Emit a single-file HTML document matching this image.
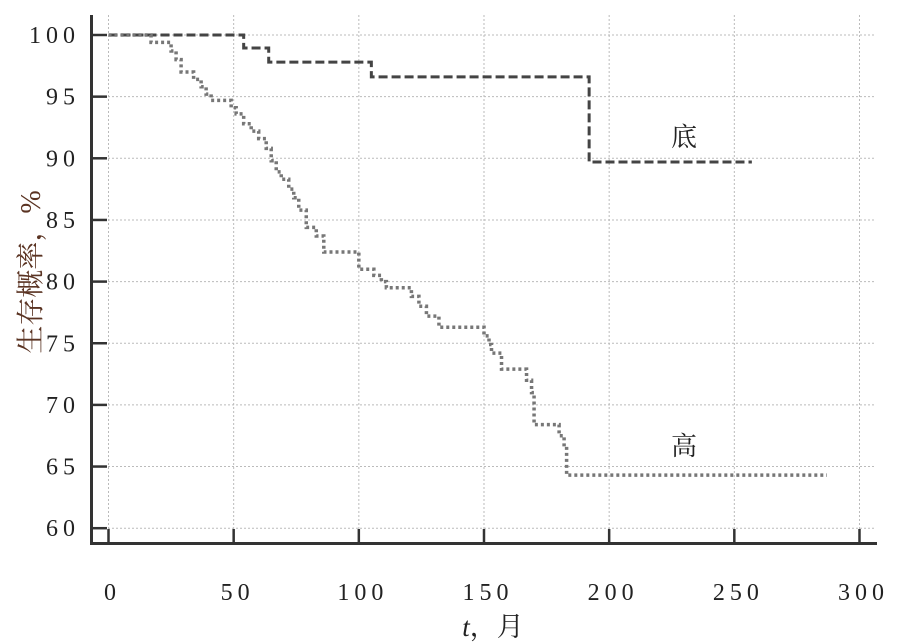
<!DOCTYPE html>
<html><head><meta charset="utf-8">
<style>
html,body{margin:0;padding:0;background:#fff;}
svg{display:block;}
text{font-family:"Liberation Serif","Noto Serif CJK SC",serif;fill:#222;}
</style></head>
<body>
<svg id="chart" width="922" height="644" viewBox="0 0 922 644" xmlns="http://www.w3.org/2000/svg"></svg>
<script>
const xTicks = [0,50,100,150,200,250,300];
const yTicks = [60,65,70,75,80,85,90,95,100];
const lowTimes = [0,54,64,105,192,257];
const lowSurv  = [100,98.95,97.8,96.6,89.7,89.7];
const highTimes = [0,17,25,27,29,34,37,39,41,49,51,54,57,60,63,65,67,69,72,74,76,79,83,86,100,106,109,111,121,124,127,132,150,152,153,157,167,169,170,180,182,183,287];
const highSurv  = [100,99.4,98.7,98.0,97.0,96.4,95.8,95.2,94.7,94.1,93.6,92.8,92.2,91.6,90.8,89.8,88.9,88.3,87.5,86.8,85.8,84.4,83.7,82.4,81.0,80.5,80.0,79.5,78.8,78.0,77.2,76.3,75.6,74.9,74.2,72.9,72.0,71.0,68.4,67.5,66.6,64.3,64.3];
const labelLow = "底", labelHigh = "高";

const svg = document.getElementById('chart');
const NS = 'http://www.w3.org/2000/svg';
const X = t => 108.5 + t*2.5033;
const Y = v => 35 + (100-v)*12.33;
function mk(tag, attrs){const e=document.createElementNS(NS,tag);for(const k in attrs)e.setAttribute(k,attrs[k]);svg.appendChild(e);return e;}

xTicks.forEach(t=>{
  const g=mk('line',{x1:X(t),x2:X(t),y1:15,y2:543,stroke:'#bbb','stroke-width':1,'stroke-dasharray':'2,2'});
  
  
});
yTicks.forEach(v=>{
  const g=mk('line',{x1:92,x2:876,y1:Y(v),y2:Y(v),stroke:'#bbb','stroke-width':1,'stroke-dasharray':'2,2'});
  
  
});
const ya=mk('line',{x1:91.5,x2:91.5,y1:15,y2:545,stroke:'#333','stroke-width':3});


const xa=mk('line',{x1:90,x2:877,y1:543.5,y2:543.5,stroke:'#333','stroke-width':3});


yTicks.forEach(v=>{
  const tk=mk('line',{x1:92,x2:107,y1:Y(v),y2:Y(v),stroke:'#333','stroke-width':2.5});
  
  
  const tl=mk('text',{x:80,y:Y(v)+8,'text-anchor':'end','font-size':24,'letter-spacing':5});
  tl.textContent=String(v);
  
  
});
xTicks.forEach(t=>{
  const tk=mk('line',{x1:X(t),x2:X(t),y1:529,y2:543,stroke:'#333','stroke-width':2.5});
  
  
  const tl=mk('text',{x:X(t)+4,y:600,'text-anchor':'middle','font-size':24,'letter-spacing':5});
  tl.textContent=String(t);
  
  
});
function stepPath(ts,ss){
  let d='M'+X(ts[0])+','+Y(ss[0]);
  for(let i=1;i<ts.length;i++){d+=' H'+X(ts[i])+' V'+Y(ss[i]);}
  return d;
}
const pl=mk('path',{d:stepPath(lowTimes,lowSurv),fill:'none',stroke:'#444','stroke-width':3,'stroke-dasharray':'9,4'});


const ph=mk('path',{d:stepPath(highTimes,highSurv),fill:'none',stroke:'#777','stroke-width':3.5,'stroke-dasharray':'3,3'});


const ll=mk('text',{x:684,y:146,'text-anchor':'middle','font-size':26});
ll.textContent=labelLow;


const lh=mk('text',{x:684,y:455,'text-anchor':'middle','font-size':26});
lh.textContent=labelHigh;


const yt=mk('text',{x:0,y:0,'text-anchor':'middle','font-size':28,transform:'translate(40,272) rotate(-90)',style:'fill:#5a3322'});
yt.textContent='生存概率，%';


const xt=mk('text',{x:493,y:636,'text-anchor':'middle','font-size':27});
xt.innerHTML='<tspan font-style="italic">t</tspan>，月';


</script>
</body></html>
